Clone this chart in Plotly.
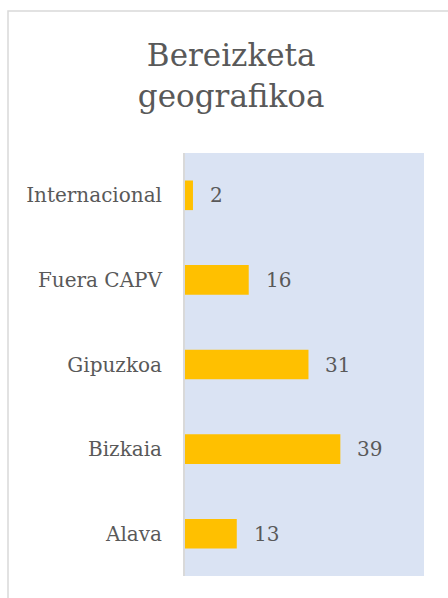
import plotly.graph_objects as go

categories = ["Alava", "Bizkaia", "Gipuzkoa", "Fuera CAPV", "Internacional"]
values = [13, 39, 31, 16, 2]
title_text = "Bereizketa<br>geografikoa"

FONT = "DejaVu Serif"
TEXT_COLOR = "#595959"
BAR_COLOR = "#FFC000"
PLOT_BG = "#DAE3F3"
BORDER = "#D9D9D9"

fig = go.Figure(
    go.Bar(
        x=values,
        y=categories,
        orientation="h",
        marker=dict(color=BAR_COLOR, line=dict(width=0)),
        hoverinfo="skip",
    )
)

# value labels right of each bar
for cat, val in zip(categories, values):
    fig.add_annotation(
        x=val, y=cat, text=str(val), showarrow=False,
        xanchor="left", yanchor="middle", xshift=15,
        font=dict(family=FONT, size=20, color=TEXT_COLOR),
    )

# outer chart border (cropped on the right and bottom)
fig.add_shape(
    type="rect", xref="paper", yref="paper",
    x0=-0.7406, x1=1.2, y0=-0.1, y1=1.3357,
    line=dict(color=BORDER, width=1.5), fillcolor="rgba(0,0,0,0)",
    layer="below",
)

fig.update_layout(
    width=448,
    height=598,
    margin=dict(l=185, r=24, t=153, b=22),
    paper_bgcolor="white",
    plot_bgcolor=PLOT_BG,
    bargap=0.65,
    showlegend=False,
    title=dict(
        text=title_text,
        x=0.516, xanchor="center",
        y=0.889, yanchor="middle",
        font=dict(family=FONT, size=31, color=TEXT_COLOR),
    ),
    xaxis=dict(
        range=[0, 60], visible=False, fixedrange=True,
    ),
    yaxis=dict(
        showline=True, linecolor=BORDER, linewidth=2,
        showgrid=False, zeroline=False, ticks="",
        ticklabelstandoff=17,
        tickfont=dict(family=FONT, size=20, color=TEXT_COLOR),
        fixedrange=True,
    ),
)

# page body has a default 8px margin; drop it so the figure sits at 0,0
fig.write_html(
    "out.html",
    config={"displayModeBar": False},
    post_script="document.body.style.margin='0';",
)
